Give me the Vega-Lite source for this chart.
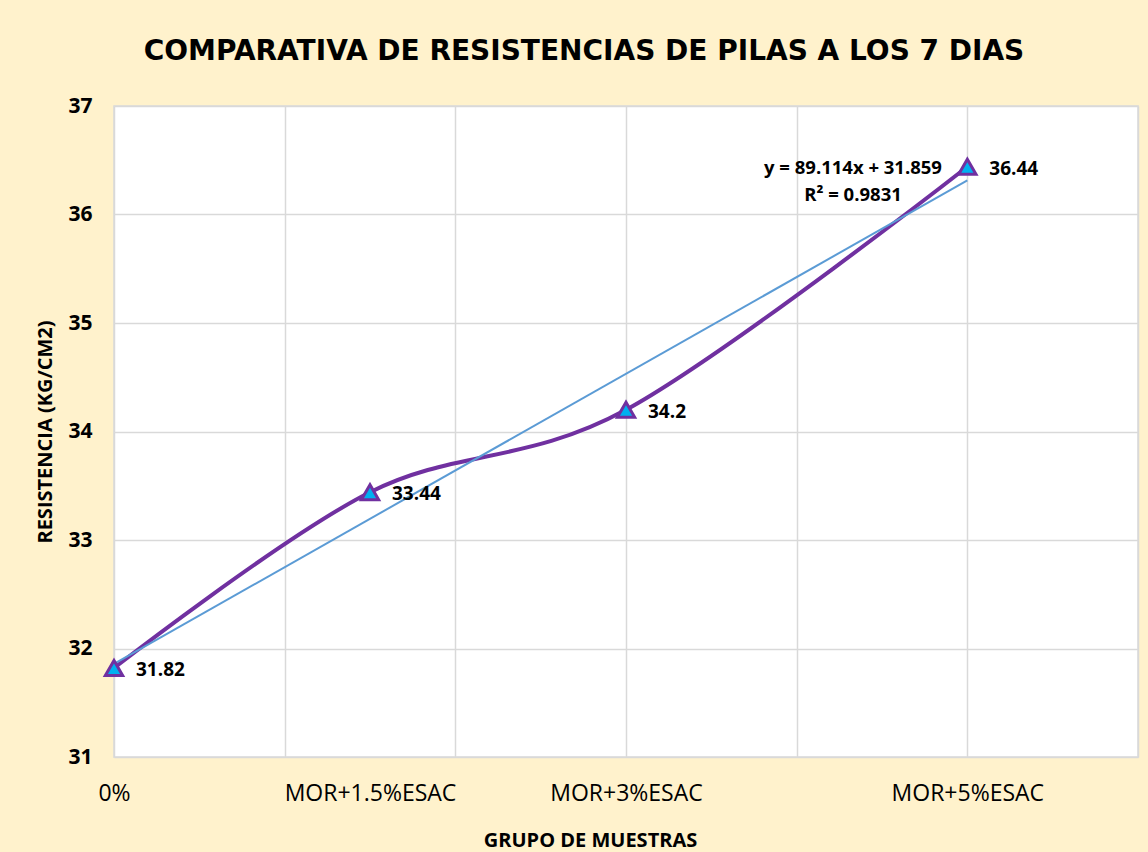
{
  "$schema": "https://vega.github.io/schema/vega-lite/v6.json",
  "width": 1024,
  "height": 651,
  "autosize": {"type": "none"},
  "padding": {"left": 114, "top": 106, "right": 10, "bottom": 95},
  "background": "#FFF2CC",
  "config": {
    "view": {"fill": "white", "stroke": "#D9D9D9", "strokeWidth": 1.5},
    "font": "Open Sans"
  },
  "title": {
    "text": "COMPARATIVA DE RESISTENCIAS DE PILAS A LOS 7 DIAS",
    "font": "DejaVu Sans",
    "fontWeight": "bold",
    "fontSize": 28,
    "color": "#000000",
    "anchor": "middle",
    "frame": "group",
    "dx": -42,
    "offset": 7,
    "baseline": "alphabetic"
  },
  "data": {
    "values": [
      {"grupo": "0%", "adicion": 0, "resistencia": 31.82},
      {"grupo": "MOR+1.5%ESAC", "adicion": 0.015, "resistencia": 33.44},
      {"grupo": "MOR+3%ESAC", "adicion": 0.03, "resistencia": 34.2},
      {"grupo": "MOR+5%ESAC", "adicion": 0.05, "resistencia": 36.44}
    ]
  },
  "layer": [
    {
      "mark": {"type": "line", "color": "#7030A0", "strokeWidth": 4, "interpolate": "cardinal"},
      "encoding": {
        "x": {
          "field": "adicion",
          "type": "quantitative",
          "scale": {"domain": [0, 0.06], "nice": false, "zero": false},
          "axis": {
            "orient": "bottom",
            "values": [0, 0.015, 0.03, 0.05],
            "labelExpr": "datum.value == 0 ? '0%' : datum.value == 0.015 ? 'MOR+1.5%ESAC' : datum.value == 0.03 ? 'MOR+3%ESAC' : 'MOR+5%ESAC'",
            "grid": false,
            "ticks": false,
            "domain": false,
            "labelFont": "Open Sans",
            "labelFontSize": 23,
            "labelColor": "#000000",
            "labelPadding": 25,
            "labelFlush": false,
            "labelOverlap": false,
            "title": "GRUPO DE MUESTRAS",
            "titleFont": "Open Sans",
            "titleFontWeight": "bold",
            "titleFontSize": 20,
            "titleColor": "#000000",
            "titlePadding": 25,
            "titleX": 476
          }
        },
        "y": {
          "field": "resistencia",
          "type": "quantitative",
          "scale": {"domain": [31, 37], "nice": false, "zero": false},
          "axis": {
            "values": [31, 32, 33, 34, 35, 36, 37],
            "format": "d",
            "grid": true,
            "gridColor": "#D9D9D9",
            "gridWidth": 1.5,
            "ticks": false,
            "domain": false,
            "labelFont": "Open Sans",
            "labelFontWeight": "bold",
            "labelFontSize": 21,
            "labelColor": "#000000",
            "labelPadding": 22,
            "title": "RESISTENCIA (KG/CM2)",
            "titleFont": "Open Sans",
            "titleFontWeight": "bold",
            "titleFontSize": 20,
            "titleColor": "#000000",
            "titlePadding": 12
          }
        }
      }
    },
    {
      "transform": [
        {"regression": "resistencia", "on": "adicion", "method": "linear", "extent": [0, 0.05]}
      ],
      "mark": {"type": "line", "color": "#5B9BD5", "strokeWidth": 2},
      "encoding": {
        "x": {
          "field": "adicion",
          "type": "quantitative",
          "axis": {
            "orient": "top",
            "values": [0, 0.01, 0.02, 0.03, 0.04, 0.05, 0.06],
            "grid": true,
            "gridColor": "#D9D9D9",
            "gridWidth": 1.5,
            "labels": false,
            "ticks": false,
            "domain": false,
            "title": null,
            "minExtent": 0,
            "maxExtent": 0,
            "offset": 0
          }
        },
        "y": {"field": "resistencia", "type": "quantitative"}
      }
    },
    {
      "mark": {"type": "point", "shape": "triangle-up", "size": 300, "filled": true, "fill": "#00B0F0", "stroke": "#7030A0", "strokeWidth": 3, "opacity": 1},
      "encoding": {
        "x": {"field": "adicion", "type": "quantitative", "axis": null},
        "y": {"field": "resistencia", "type": "quantitative"}
      }
    },
    {
      "mark": {"type": "text", "align": "left", "baseline": "middle", "dx": 22, "dy": 2, "font": "Open Sans", "fontWeight": "bold", "fontSize": 19, "color": "#000000"},
      "encoding": {
        "x": {"field": "adicion", "type": "quantitative", "axis": null},
        "y": {"field": "resistencia", "type": "quantitative"},
        "text": {"field": "resistencia", "type": "quantitative", "format": ".4~"}
      }
    },
    {
      "data": {"values": [{}]},
      "mark": {"type": "text", "align": "center", "baseline": "middle", "font": "Open Sans", "fontWeight": "bold", "fontSize": 18.5, "color": "#000000", "lineHeight": 27, "text": ["y = 89.114x + 31.859", "R² = 0.9831"]},
      "encoding": {
        "x": {"datum": 0.0433, "type": "quantitative", "axis": null},
        "y": {"datum": 36.43, "type": "quantitative"}
      }
    }
  ],
  "resolve": {"axis": {"x": "independent"}}
}
